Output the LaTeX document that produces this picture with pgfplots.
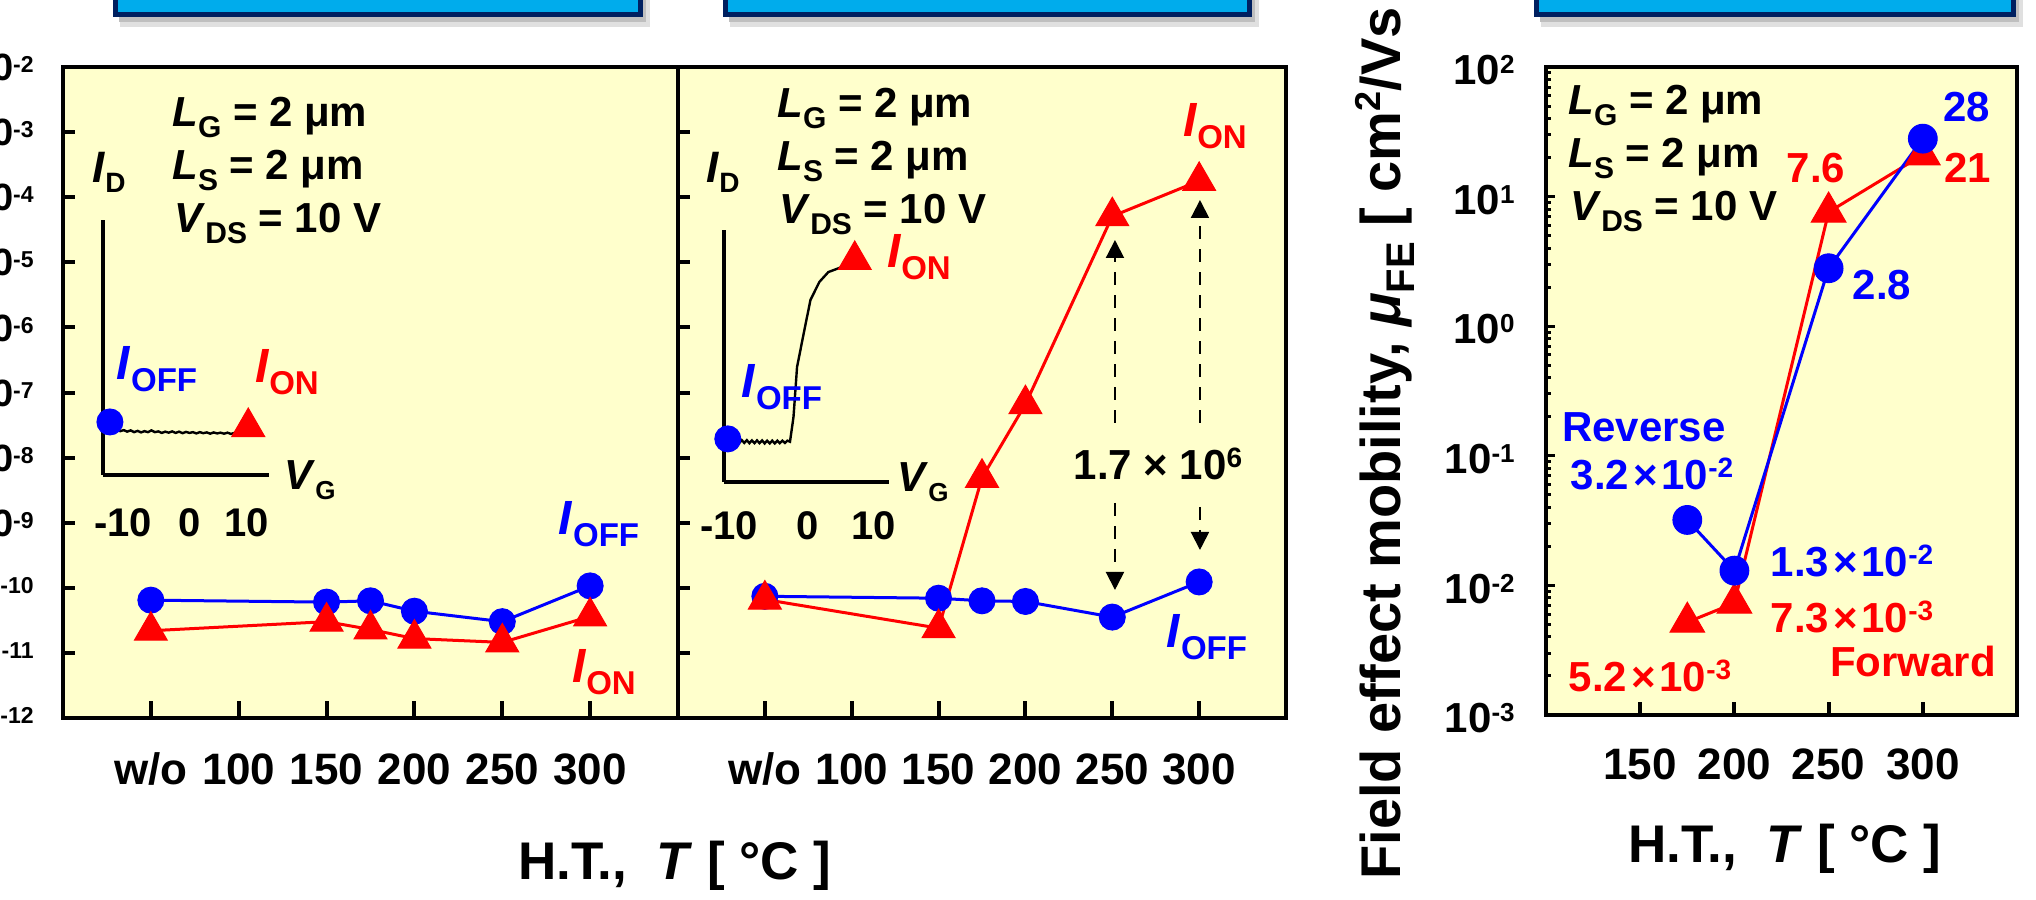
\documentclass[border=0pt]{standalone}
\usepackage{fontspec}
\setmainfont{Liberation Sans}
\usepackage{pgfplots}
\pgfplotsset{compat=1.18}
\usetikzlibrary{arrows.meta}
\definecolor{bgy}{RGB}{255,255,204}
\definecolor{myblue}{RGB}{0,0,255}
\definecolor{myred}{RGB}{255,0,0}
\definecolor{boxfill}{RGB}{0,172,236}
\definecolor{boxedge}{RGB}{0,32,96}
\newcommand{\fs}[1]{\fontsize{#1}{#1}\selectfont}
\newcommand{\dn}[3]{\raisebox{-#1}{\fs{#2}#3}}
\newcommand{\up}[3]{\raisebox{#1}{\fs{#2}#3}}
\newcommand{\LG}{\textit{L}\dn{5.5bp}{15bp}{G} = 2 μm}
\newcommand{\LS}{\textit{L}\dn{5.5bp}{15bp}{S} = 2 μm}
\newcommand{\VDS}{\textit{V}\dn{5.5bp}{15bp}{DS} = 10 V}
\newcommand{\ID}{\textit{I}\dn{5bp}{14bp}{D}}
\newcommand{\VG}{\textit{V}\dn{5bp}{13bp}{G}}
\newcommand{\IOFF}{\textit{I}\dn{6bp}{16.5bp}{OFF}}
\newcommand{\ION}{\textit{I}\dn{6bp}{16.5bp}{ON}}
\newcommand{\lsup}[1]{10\up{4bp}{11.5bp}{#1}}
\newcommand{\rsup}[1]{10\up{5.5bp}{13bp}{#1}}
\newcommand{\vsup}[1]{10\up{6bp}{14bp}{#1}}
\newcommand{\tms}{\hspace{2bp}×\hspace{2bp}}
\pgfplotsset{
  panel/.style={scale only axis, anchor=south west,
    axis background/.style={fill=bgy},
    axis line style={line width=2bp},
    tick align=inside, xtick pos=bottom, ytick pos=left,
    yminorticks=false, xminorticks=false, clip=false},
  bl/.style={color=myblue, line width=1.5bp, mark=*, mark size=6.5bp,
    mark options={line width=0.5bp, fill=myblue}},
  rd/.style={color=myred, line width=1.5bp, mark=triangle*, mark size=9.5bp,
    mark options={line width=0.5bp, fill=myred}},
  inset/.style={scale only axis, anchor=south west, axis lines=left,
    axis line style={line width=2bp, -}, xtick=\empty, ytick=\empty,
    ymin=0, ymax=1, clip=false},
}
\begin{document}
\begin{tikzpicture}[font=\bfseries]
\useasboundingbox (0,0) rectangle (1018bp,450bp);
\clip (0,0) rectangle (1018bp,450bp);

% ---------------- left panel ----------------
\begin{axis}[panel, at={(31.5bp,91bp)}, width=307.5bp, height=325.5bp,
  xmin=0, xmax=350, ymode=log, ymin=1e-12, ymax=1e-2,
  xtick={50,100,150,200,250,300}, xticklabels={w/o,100,150,200,250,300},
  ytick={1e-12,1e-11,1e-10,1e-9,1e-8,1e-7,1e-6,1e-5,1e-4,1e-3,1e-2},
  yticklabels={\lsup{-12},\lsup{-11},\lsup{-10},\lsup{-9},\lsup{-8},\lsup{-7},\lsup{-6},\lsup{-5},\lsup{-4},\lsup{-3},\lsup{-2}},
  xtick style={line width=2bp, black, /pgfplots/major tick length=8.5bp},
  ytick style={line width=2bp, black, /pgfplots/major tick length=6bp},
  xticklabel style={font=\fs{22bp}\bfseries, anchor=north, inner sep=0pt, yshift=-17bp, text height=16bp, text depth=0pt},
  yticklabel style={font=\fs{19bp}\bfseries, anchor=base east, inner sep=0pt, xshift=-14.5bp, yshift=-6.8bp},
]
\addplot[bl] coordinates {(50,6.46e-11) (150,6.03e-11) (175,6.31e-11) (200,4.37e-11) (250,3.02e-11) (300,1.07e-10)};
\addplot[rd] coordinates {(50,2.19e-11) (150,3.02e-11) (175,2.29e-11) (200,1.66e-11) (250,1.45e-11) (300,3.63e-11)};
\end{axis}

% ---------------- middle panel ----------------
\begin{axis}[panel, at={(339bp,91bp)}, width=304bp, height=325.5bp,
  xmin=0, xmax=350, ymode=log, ymin=1e-12, ymax=1e-2,
  xtick={50,100,150,200,250,300}, xticklabels={w/o,100,150,200,250,300},
  ytick={1e-12,1e-11,1e-10,1e-9,1e-8,1e-7,1e-6,1e-5,1e-4,1e-3,1e-2},
  yticklabels={},
  xtick style={line width=2bp, black, /pgfplots/major tick length=8.5bp},
  ytick style={line width=2bp, black, /pgfplots/major tick length=6bp},
  xticklabel style={font=\fs{22bp}\bfseries, anchor=north, inner sep=0pt, yshift=-17bp, text height=16bp, text depth=0pt},
]
\addplot[bl] coordinates {(50,7.41e-11) (150,6.92e-11) (175,6.31e-11) (200,6.17e-11) (250,3.55e-11) (300,1.23e-10)};
\addplot[rd] coordinates {(50,6.61e-11) (150,2.40e-11) (175,4.90e-9) (200,6.61e-8) (250,5.1e-5) (300,1.78e-4)};
\end{axis}

% ---------------- right panel ----------------
\begin{axis}[panel, at={(773bp,92.5bp)}, width=235.5bp, height=324bp,
  xmin=100, xmax=350, ymode=log, ymin=1e-3, ymax=1e2,
  xtick={150,200,250,300}, xticklabels={150,200,250,300},
  ytick={1e-3,1e-2,1e-1,1,10,100},
  yticklabels={\rsup{-3},\rsup{-2},\rsup{-1},\rsup{0},\rsup{1},\rsup{2}},
  yminorticks=true,
  minor ytick={2e-3,3e-3,4e-3,5e-3,6e-3,7e-3,8e-3,9e-3,
    2e-2,3e-2,4e-2,5e-2,6e-2,7e-2,8e-2,9e-2,
    0.2,0.3,0.4,0.5,0.6,0.7,0.8,0.9,
    2,3,4,5,6,7,8,9,
    20,30,40,50,60,70,80,90},
  xtick style={line width=2bp, black, /pgfplots/major tick length=6.5bp},
  ytick style={line width=1.5bp, black, /pgfplots/major tick length=4.5bp, /pgfplots/minor tick length=2.5bp},
  xticklabel style={font=\fs{22bp}\bfseries, anchor=north, inner sep=0pt, yshift=-16bp, text height=16bp, text depth=0pt},
  yticklabel style={font=\fs{21bp}\bfseries, anchor=base east, inner sep=0pt, xshift=-15.5bp, yshift=-8.8bp},
]
\addplot[rd, mark size=10bp] coordinates {(175,5.2e-3) (200,7.3e-3) (250,7.6) (300,21)};
\addplot[bl, mark size=7.2bp] coordinates {(175,3.2e-2) (200,1.3e-2) (250,2.8) (300,28)};
\end{axis}

% ---------------- left inset ----------------
\begin{axis}[inset, at={(51.5bp,212.5bp)}, width=83bp, height=127.5bp, xmin=-11, xmax=13]
\addplot[black, line width=1.2bp] coordinates {(-9.5,0.192) (-9,0.176) (-8.5,0.172) (-8,0.176) (-7.5,0.170) (-7,0.175) (-6.5,0.168) (-6,0.173) (-5.5,0.167) (-5,0.172) (-4.5,0.168) (-4,0.175) (-3.5,0.168) (-3,0.171) (-2.5,0.165) (-2,0.170) (-1.5,0.166) (-1,0.171) (-0.5,0.165) (0,0.170) (0.5,0.164) (1,0.169) (1.5,0.165) (2,0.168) (2.5,0.163) (3,0.168) (3.5,0.164) (4,0.167) (4.5,0.162) (5,0.167) (5.5,0.163) (6,0.166) (6.5,0.162) (7,0.166) (7.5,0.161) (8,0.165) (8.5,0.162) (9,0.166) (9.5,0.168)};
\addplot[bl, only marks] coordinates {(-10,0.208)};
\addplot[rd, only marks] coordinates {(10,0.188)};
\end{axis}

% ---------------- middle inset ----------------
\begin{axis}[inset, at={(362bp,209bp)}, width=82.5bp, height=126bp, xmin=-10.6, xmax=15.4]
\addplot[black, line width=1.2bp] coordinates {(-9.4,0.166) (-9,0.156) (-8.6,0.167) (-8.2,0.155) (-7.8,0.166) (-7.4,0.155) (-7,0.166) (-6.6,0.154) (-6.2,0.165) (-5.8,0.154) (-5.4,0.165) (-5,0.154) (-4.6,0.165) (-4.2,0.153) (-3.8,0.164) (-3.4,0.153) (-3,0.164) (-2.6,0.153) (-2.2,0.164) (-1.8,0.154) (-1.4,0.164) (-1,0.155) (-0.6,0.164) (-0.2,0.160) (0.35,0.258) (0.91,0.456) (1.97,0.591) (3.02,0.722) (4.43,0.794) (5.84,0.833) (7.95,0.853) (9.69,0.865)};
\addplot[bl, only marks] coordinates {(-10,0.171)};
\addplot[rd, only marks] coordinates {(10,0.881)};
\end{axis}

% ---------------- annotations in pixel coordinates ----------------
\begin{scope}[shift={(0,450bp)}, x=0.5bp, y=-0.5bp]
  % top boxes (cut off)
  \foreach \a/\b in {116/641, 726/1250, 1537/2014}{
    \fill[black!12] (\a+4,-20) rectangle (\b+9,27);
    \fill[black!25] (\a+3,-20) rectangle (\b+5,22);
    \filldraw[fill=boxfill, draw=boxedge, line width=2.5bp] (\a,-30) rectangle (\b,15);
  }
  % condition text
  \foreach \x/\y in {172/0, 777/-9, 1568/-12}{
    \node[anchor=base west, font=\fs{21bp}\bfseries, inner sep=0pt] at (\x,127+\y) {\LG};
    \node[anchor=base west, font=\fs{21bp}\bfseries, inner sep=0pt] at (\x,180+\y) {\LS};
    \node[anchor=base west, font=\fs{21bp}\bfseries, inner sep=0pt] at (\x+2,233+\y) {\VDS};
  }
  % left inset labels
  \node[anchor=base, font=\fs{22bp}\bfseries, inner sep=0pt] at (109,183) {\ID};
  \node[anchor=base, font=\fs{21bp}\bfseries, inner sep=0pt] at (310,490) {\VG};
  \node[anchor=base, font=\fs{20bp}\bfseries, inner sep=0pt] at (123,537) {-10};
  \node[anchor=base, font=\fs{20bp}\bfseries, inner sep=0pt] at (190,537) {0};
  \node[anchor=base, font=\fs{20bp}\bfseries, inner sep=0pt] at (247,537) {10};
  \node[anchor=base, font=\fs{24bp}\bfseries, inner sep=0pt, text=myblue] at (157,380) {\IOFF};
  \node[anchor=base, font=\fs{24bp}\bfseries, inner sep=0pt, text=myred] at (287,383) {\ION};
  \node[anchor=base, font=\fs{24bp}\bfseries, inner sep=0pt, text=myblue] at (599,535) {\IOFF};
  \node[anchor=base, font=\fs{24bp}\bfseries, inner sep=0pt, text=myred] at (604,683) {\ION};
  % middle inset labels
  \node[anchor=base, font=\fs{22bp}\bfseries, inner sep=0pt] at (723,183) {\ID};
  \node[anchor=base, font=\fs{21bp}\bfseries, inner sep=0pt] at (923,492) {\VG};
  \node[anchor=base, font=\fs{20bp}\bfseries, inner sep=0pt] at (729,540) {-10};
  \node[anchor=base, font=\fs{20bp}\bfseries, inner sep=0pt] at (808,540) {0};
  \node[anchor=base, font=\fs{20bp}\bfseries, inner sep=0pt] at (874,540) {10};
  \node[anchor=base, font=\fs{24bp}\bfseries, inner sep=0pt, text=myblue] at (782,398) {\IOFF};
  \node[anchor=base, font=\fs{24bp}\bfseries, inner sep=0pt, text=myred] at (919,268) {\ION};
  \node[anchor=base, font=\fs{24bp}\bfseries, inner sep=0pt, text=myred] at (1215,137) {\ION};
  \node[anchor=base, font=\fs{24bp}\bfseries, inner sep=0pt, text=myblue] at (1207,648) {\IOFF};
  \node[anchor=base, font=\fs{21bp}\bfseries, inner sep=0pt] at (1158,480) {1.7 × \vsup{6}};
  % dashed arrows
  \begin{scope}[line width=1bp, dash pattern=on 6.5bp off 5bp]
    \draw[-{Triangle[width=9bp,length=9bp]}] (1115,423) -- (1115,240);
    \draw[-{Triangle[width=9bp,length=9bp]}] (1115,503) -- (1115,590);
    \draw[-{Triangle[width=9bp,length=9bp]}] (1200,423) -- (1200,200);
    \draw[-{Triangle[width=9bp,length=9bp]}] (1200,507) -- (1200,550);
  \end{scope}
  % right panel labels
  \node[anchor=base, font=\fs{21bp}\bfseries, inner sep=0pt, text=myblue] at (1967,122) {28};
  \node[anchor=base, font=\fs{21bp}\bfseries, inner sep=0pt, text=myred] at (1816,183) {7.6};
  \node[anchor=base, font=\fs{21bp}\bfseries, inner sep=0pt, text=myred] at (1968,183) {21};
  \node[anchor=base, font=\fs{21bp}\bfseries, inner sep=0pt, text=myblue] at (1882,300) {2.8};
  \node[anchor=base, font=\fs{21bp}\bfseries, inner sep=0pt, text=myblue] at (1644,442) {Reverse};
  \node[anchor=base, font=\fs{21bp}\bfseries, inner sep=0pt, text=myblue] at (1652,490) {3.2\tms\vsup{-2}};
  \node[anchor=base, font=\fs{21bp}\bfseries, inner sep=0pt, text=myblue] at (1852,577) {1.3\tms\vsup{-2}};
  \node[anchor=base, font=\fs{21bp}\bfseries, inner sep=0pt, text=myred] at (1852,633) {7.3\tms\vsup{-3}};
  \node[anchor=base, font=\fs{21bp}\bfseries, inner sep=0pt, text=myred] at (1913,677) {Forward};
  \node[anchor=base, font=\fs{21bp}\bfseries, inner sep=0pt, text=myred] at (1650,692) {5.2\tms\vsup{-3}};
  % axis titles
  \node[anchor=base, font=\fs{26.5bp}\bfseries, inner sep=0pt] at (675,880) {H.T.,\hspace{0.55em}\textit{T} [ °C ]};
  \node[anchor=base, font=\fs{26.5bp}\bfseries, inner sep=0pt] at (1785,863) {H.T.,\hspace{0.55em}\textit{T} [ °C ]};
  \node[anchor=base west, rotate=90, font=\fs{28bp}\bfseries, inner sep=0pt] at (1401,880)
    {Field effect mobility, \textit{μ}\dn{7bp}{20bp}{FE} [ cm\up{10bp}{18bp}{2}/Vs ]};
\end{scope}
\end{tikzpicture}
\end{document}
